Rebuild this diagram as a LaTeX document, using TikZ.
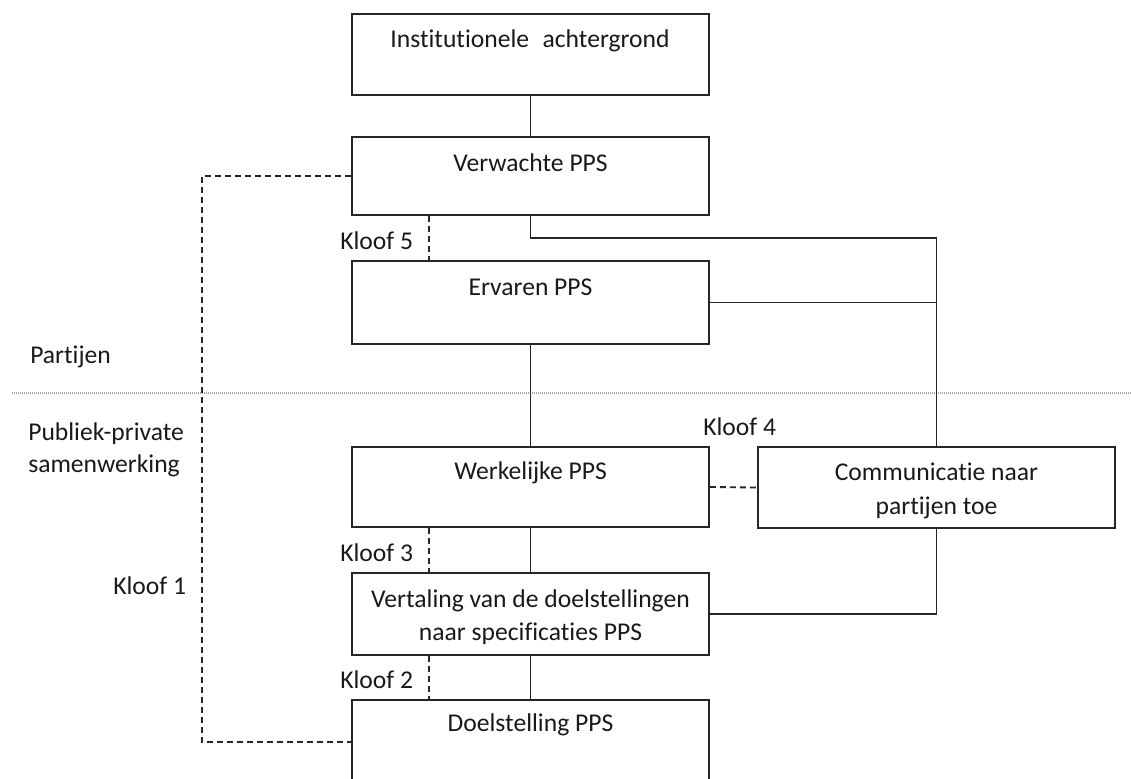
\documentclass[tikz,border=0pt]{standalone}
\usepackage{fontspec}
\setmainfont{Carlito}[Ligatures=NoCommon]
\begin{document}
\begin{tikzpicture}[x=0.75pt,y=-0.75pt,
  box/.style={draw=black!85,line width=1.4pt,minimum width=267.75pt,inner sep=0pt},
  txt/.style={inner sep=0pt,align=center,font=\fontsize{19.2}{25}\selectfont,text=black!90},
  lbl/.style={inner sep=0pt,anchor=west,align=left,font=\fontsize{19.2}{24}\selectfont,text=black!90},
  link/.style={draw=black!85,line width=1.4pt},
  gap/.style={draw=black!85,line width=1.4pt,dash pattern=on 4.5pt off 3pt}]
\useasboundingbox (0,0) rectangle (1131,778);

% boxes of the main chain
\node[box,minimum height=60.75pt] (b1) at (530.5,54.5) {};
\node[box,minimum height=58.5pt]  (b2) at (530.5,176) {};
\node[box,minimum height=62.25pt] (b3) at (530.5,302.5) {};
\node[box,minimum height=60pt]    (b4) at (530.5,487) {};
\node[box,minimum height=60.75pt] (b5) at (936.5,487.5) {};
\node[box,minimum height=61.5pt]  (b6) at (530.5,614) {};
\node[box,minimum height=63pt]    (b7) at (530.5,742) {};

% box texts
\node[txt] (t1) at (530,41) {Institutionele\hspace{0.3em} achtergrond};
\node[txt] (t2) at (530.5,163) {Verwachte PPS};
\node[txt] (t3) at (530.5,287) {Ervaren PPS};
\node[txt] (t4) at (530.5,473) {Werkelijke PPS};
\node[txt] (t5) at (936.5,491) {Communicatie naar\\partijen toe};
\node[txt] (t6) at (530.5,617) {Vertaling van de doelstellingen\\naar specificaties PPS};
\node[txt] (t7) at (530.5,725) {Doelstelling PPS};

% side labels
\node[lbl] (p1) at (30,357) {Partijen};
\node[lbl] (p2) at (28,450) {Publiek-private\\samenwerking};
\node[lbl] (k5) at (340,241) {Kloof 5};
\node[lbl] (k4) at (703,427) {Kloof 4};
\node[lbl] (k3) at (340,553) {Kloof 3};
\node[lbl] (k2) at (340,680) {Kloof 2};
\node[lbl] (k1) at (113,586) {Kloof 1};

% separator between the two levels
\coordinate (sepL) at (12,393);
\coordinate (sepR) at (1131,393);
\draw[gray!70,line width=0.9pt,dash pattern=on 0.75pt off 0.75pt] (sepL) -- (sepR);

% solid links
\draw[link] (b1.south) -- (b2.north);
\draw[link] (b3.south) -- (b4.north);
\draw[link] (b4.south) -- (b6.north);
\draw[link] (b6.south) -- (b7.north);
\draw[link] (b2.south) -- ++(0,22) -| (b5.north);
\draw[link] (b3.east) -- (b3.east -| b5.north);
\draw[link] (b5.south) |- (b6.east);

% gaps (dashed)
\draw[gap] ([xshift=58.5pt]b2.south west) -- ([xshift=58.5pt]b3.north west);
\draw[gap] ([xshift=58.5pt]b4.south west) -- ([xshift=58.5pt]b6.north west);
\draw[gap] ([xshift=58.5pt]b6.south west) -- ([xshift=58.5pt]b7.north west);
\draw[gap] (b4.east) -- (b5.west);
\coordinate (g1) at (202,176);
\draw[gap] (b2.west) -- (g1) |- (b7.west);
\end{tikzpicture}
\end{document}
